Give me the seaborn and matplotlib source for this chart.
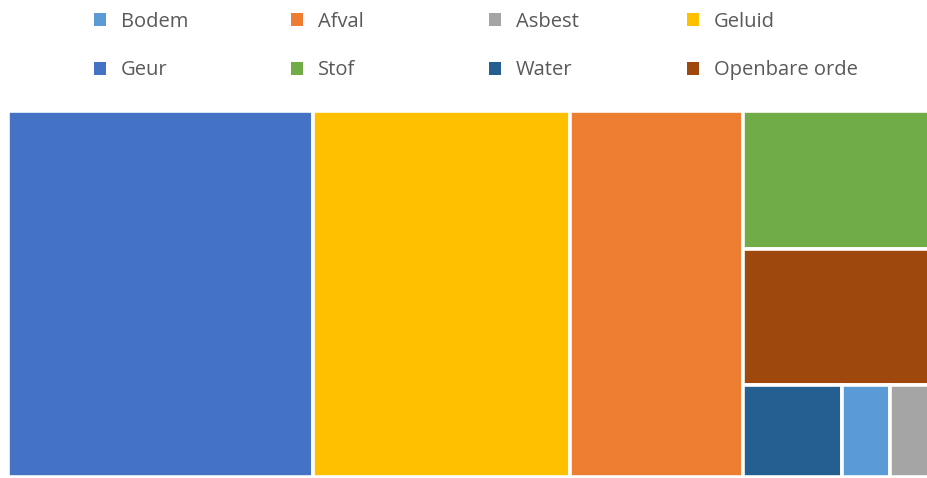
import matplotlib
matplotlib.use("Agg")
import matplotlib.pyplot as plt
from matplotlib.patches import Rectangle, Patch
import seaborn as sns

# ---- data ----
categories = ["Geur", "Geluid", "Afval", "Stof", "Openbare orde", "Water", "Bodem", "Asbest"]
values = [331, 279, 187, 77, 76, 27, 13, 11]
colors = ["#4472C4", "#FFC000", "#ED7D31", "#70AD47", "#9E480E", "#255E91", "#5B9BD5", "#A5A5A5"]
legend_order = ["Bodem", "Afval", "Asbest", "Geluid", "Geur", "Stof", "Water", "Openbare orde"]

sns.set_theme(style="white")
plt.rcParams["font.family"] = ["Open Sans", "DejaVu Sans"]

W_PX, H_PX = 928, 478
fig = plt.figure(figsize=(W_PX / 100, H_PX / 100), dpi=100)


def worst(areas, side):
    s = sum(areas)
    strip = s / side
    r = []
    for a in areas:
        l = a / strip
        r.append(max(strip / l, l / strip))
    return max(r)


def squarify(vals, x, y, w, h, bias=0.95):
    total = sum(vals)
    areas = [v * w * h / total for v in vals]
    rects = []
    i = 0
    while i < len(areas):
        vertical = w >= h * bias
        side = h if vertical else w
        row = [areas[i]]
        j = i + 1
        while j < len(areas) and worst(row + [areas[j]], side) <= worst(row, side):
            row.append(areas[j])
            j += 1
        s = sum(row)
        strip = s / side
        off = 0
        for a in row:
            l = a / strip
            if vertical:
                rects.append((x, y + off, strip, l))
            else:
                rects.append((x + off, y, l, strip))
            off += l
        if vertical:
            x += strip
            w -= strip
        else:
            y += strip
            h -= strip
        i = j
    return rects


# treemap axes in pixel placement
left, right, top, bottom = 7.5, 931.0, 110.5, 477.0
ax = fig.add_axes([left / W_PX, 1 - bottom / H_PX, (right - left) / W_PX, (bottom - top) / H_PX])
AW, AH = right - left, bottom - top
ax.set_xlim(0, AW)
ax.set_ylim(AH, 0)
ax.axis("off")

rects = squarify(values, 0, 0, AW, AH)
for (rx, ry, rw, rh), c in zip(rects, colors):
    ax.add_patch(Rectangle((rx, ry), rw, rh, facecolor=c, edgecolor="white", linewidth=2.6))

# legend: four columns, two rows
col_map = dict(zip(categories, colors))
col_x = [94, 291, 489, 687]
fs = 14.5
for k in range(4):
    labs = [legend_order[k], legend_order[k + 4]]
    handles = [Patch(facecolor=col_map[l], edgecolor="none") for l in labs]
    fig.legend(handles, labs, loc="upper left",
               bbox_to_anchor=(col_x[k] / W_PX, 1 - 12 / H_PX),
               frameon=False, fontsize=fs, labelcolor="#595959",
               handlelength=0.62, handleheight=0.62, handletextpad=0.7,
               labelspacing=1.4, borderpad=0, borderaxespad=0)

fig.savefig("out.png", dpi=100)
